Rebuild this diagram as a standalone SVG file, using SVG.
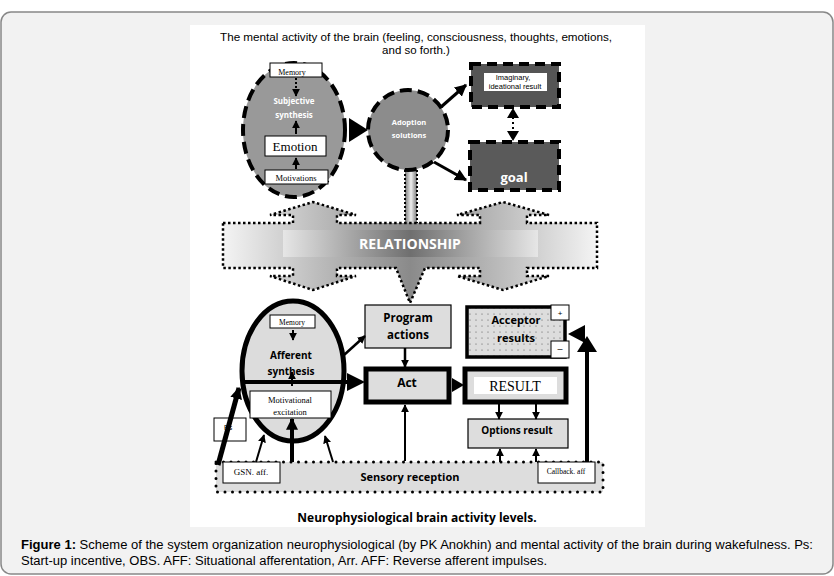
<svg xmlns="http://www.w3.org/2000/svg" width="834" height="576" viewBox="0 0 834 576">
<defs>
<style>
.t{font-family:"Liberation Sans",Arial,sans-serif;fill:#000}
.s{font-family:"Liberation Serif","Times New Roman",serif;fill:#000}
.b{font-family:"Open Sans","Liberation Sans",sans-serif;font-weight:bold}
.wb{fill:#fff;stroke:#000;stroke-width:1}
.ln{stroke:#000;fill:none}
</style>
<marker id="ah" viewBox="0 0 10 10" refX="9" refY="5" markerUnits="userSpaceOnUse" markerWidth="12" markerHeight="12" orient="auto"><path d="M0,0L10,5L0,10Z" fill="#000"/></marker>
<marker id="as" viewBox="0 0 10 10" refX="9" refY="5" markerUnits="userSpaceOnUse" markerWidth="8" markerHeight="8" orient="auto"><path d="M0,0L10,5L0,10Z" fill="#000"/></marker>
<linearGradient id="gh" x1="0" x2="1" y1="0" y2="0"><stop offset="0" stop-color="#f4f4f4"/><stop offset="0.25" stop-color="#bdbdbd"/><stop offset="0.5" stop-color="#8a8a8a"/><stop offset="0.75" stop-color="#bdbdbd"/><stop offset="1" stop-color="#f4f4f4"/></linearGradient>
<linearGradient id="gi" x1="0" x2="1"><stop offset="0" stop-color="#e6e6e6"/><stop offset="0.5" stop-color="#6f6f6f"/><stop offset="1" stop-color="#e6e6e6"/></linearGradient>
<linearGradient id="gv" x1="0" x2="1"><stop offset="0" stop-color="#777"/><stop offset="0.5" stop-color="#eee"/><stop offset="1" stop-color="#777"/></linearGradient>
<pattern id="dots" width="6" height="6" patternUnits="userSpaceOnUse"><rect width="6" height="6" fill="#ddd"/><circle cx="2" cy="2" r="0.6" fill="#555"/></pattern>
</defs>
<rect x="1" y="12" width="832" height="562" rx="10" fill="#f2f2f2" stroke="#888" stroke-width="1.5"/>
<rect x="190" y="25" width="455" height="502" fill="#fff"/>
<text class="t" font-size="11.5" text-anchor="middle"><tspan x="416" y="41" textLength="392" lengthAdjust="spacingAndGlyphs">The mental activity of the brain (feeling, consciousness, thoughts, emotions,</tspan><tspan x="416" y="54">and so forth.)</tspan></text>

<g id="relationship">
<rect x="405" y="170" width="12" height="55" fill="url(#gv)" stroke="#000" stroke-width="2" stroke-dasharray="2,2"/>
<path d="M223,223L293,223L293,215L270,215L313,202L356,215L337,215L337,223L480,223L480,215L457,215L503,202L549,215L527,215L527,223L597,223L597,268L527,268L527,276L549,276L503,290L457,276L480,276L480,268L425,268L410,303L396,268L337,268L337,276L356,276L313,290L270,276L293,276L293,268L223,268Z" fill="url(#gh)" stroke="#000" stroke-width="2.5" stroke-dasharray="2.5,2.5"/>
<rect x="283" y="230" width="255" height="27" fill="url(#gi)"/>
<text class="b" x="410" y="249" font-size="14" fill="#fff" text-anchor="middle">RELATIONSHIP</text>
</g>

<g id="subjective">
<ellipse cx="294" cy="130" rx="51" ry="67" fill="#999" stroke="#000" stroke-width="4" stroke-dasharray="12,6"/>
<rect class="wb" x="270" y="63" width="52" height="14"/>
<text class="s" x="292" y="75" font-size="8" text-anchor="middle">Memory</text>
<text class="b" font-size="8" fill="#fff" text-anchor="middle"><tspan x="294" y="104">Subjective</tspan><tspan x="294" y="118">synthesis</tspan></text>
<rect class="wb" x="265" y="136" width="61" height="20"/>
<text class="s" x="295" y="151" font-size="13" text-anchor="middle">Emotion</text>
<rect class="wb" x="265" y="170" width="63" height="14"/>
<text class="s" x="296" y="181" font-size="8.5" text-anchor="middle">Motivations</text>
</g>

<g id="adoption">
<circle cx="408" cy="130" r="40" fill="#8c8c8c" stroke="#000" stroke-width="4" stroke-dasharray="12,6"/>
<text class="b" font-size="7.5" fill="#fff" text-anchor="middle"><tspan x="409" y="125">Adoption</tspan><tspan x="409" y="138">solutions</tspan></text>
</g>

<g id="imaginary">
<rect x="471" y="64" width="88" height="43" fill="#555" stroke="#000" stroke-width="4" stroke-dasharray="10,6"/>
<rect x="484" y="73" width="63" height="18" fill="#fff"/>
<text class="t" font-size="7.5" text-anchor="middle"><tspan x="513" y="80">Imaginary,</tspan><tspan x="515" y="89">ideational result</tspan></text>
</g>
<g id="goal">
<rect x="470" y="142" width="89" height="48" fill="#5a5a5a" stroke="#000" stroke-width="4" stroke-dasharray="10,6"/>
<text class="b" x="514" y="182" font-size="13" fill="#fff" text-anchor="middle">goal</text>
</g>

<g id="afferent">
<ellipse cx="293" cy="371" rx="51" ry="70" fill="#dcdcdc" stroke="#000" stroke-width="5"/>
<rect class="wb" x="270" y="315" width="45" height="13"/>
<text class="s" x="292" y="325" font-size="7.5" text-anchor="middle">Memory</text>
<text class="b" font-size="10" text-anchor="middle"><tspan x="291" y="359">Afferent</tspan><tspan x="291" y="375">synthesis</tspan></text>
<rect class="wb" x="250" y="391" width="81" height="27"/>
<text class="s" font-size="8.5" text-anchor="middle"><tspan x="290" y="403">Motivational</tspan><tspan x="290" y="415">excitation</tspan></text>
</g>
<g id="ps"><rect class="wb" x="214" y="418" width="32" height="23"/><text class="t" x="224" y="430" font-size="7">Ps</text></g>
<g id="program"><rect x="365" y="305" width="86" height="43" fill="#ddd" stroke="#000" stroke-width="1.2"/>
<text class="b" font-size="11.5" text-anchor="middle"><tspan x="408" y="322">Program</tspan><tspan x="408" y="339">actions</tspan></text></g>
<g id="act"><rect x="366" y="369" width="83" height="33" fill="#ddd" stroke="#000" stroke-width="5"/>
<text class="b" x="407" y="387" font-size="12" text-anchor="middle">Act</text></g>
<g id="result"><rect x="465" y="369" width="101" height="33" fill="#ddd" stroke="#000" stroke-width="5"/>
<rect x="474" y="377" width="83" height="17" fill="#fff"/>
<text class="s" x="515" y="391" font-size="14" text-anchor="middle">RESULT</text></g>
<g id="options"><rect x="468" y="419" width="100" height="29" fill="#ddd" stroke="#000" stroke-width="1.2"/>
<text class="b" x="517" y="434" font-size="10" text-anchor="middle">Options result</text></g>
<g id="acceptor"><rect x="467" y="307" width="98" height="50" fill="url(#dots)" stroke="#000" stroke-width="3.5"/>
<text class="b" font-size="11" text-anchor="middle"><tspan x="516" y="324">Acceptor</tspan><tspan x="516" y="342">results</tspan></text>
<rect class="wb" x="551" y="305" width="18" height="15"/><text class="t" x="560" y="316" font-size="8" text-anchor="middle">+</text>
<rect class="wb" x="551" y="341" width="18" height="17"/><text class="t" x="560" y="352" font-size="9" text-anchor="middle">–</text></g>
<g id="sensory"><rect x="216" y="462" width="387" height="30" fill="#ddd" stroke="#000" stroke-width="3" stroke-dasharray="0,7.5" stroke-linecap="round"/>
<text class="b" x="410" y="481" font-size="11" font-weight="normal" text-anchor="middle">Sensory reception</text>
<rect class="wb" x="223" y="462" width="57" height="21"/><text class="s" x="251" y="475" font-size="9" text-anchor="middle">GSN. aff.</text>
<rect class="wb" x="538" y="462" width="57" height="21"/><text class="s" x="566" y="474" font-size="7.5" text-anchor="middle">Callback. aff</text></g>

<text class="b" x="417" y="522" font-size="12" text-anchor="middle">Neurophysiological brain activity levels.</text>
<text class="t" font-size="12" fill="#333"><tspan x="21" y="549" textLength="792" lengthAdjust="spacingAndGlyphs"><tspan font-weight="bold">Figure 1:</tspan> Scheme of the system organization neurophysiological (by PK Anokhin) and mental activity of the brain during wakefulness. Ps:</tspan><tspan x="21" y="565" textLength="526" lengthAdjust="spacingAndGlyphs">Start-up incentive, OBS. AFF: Situational afferentation, Arr. AFF: Reverse afferent impulses.</tspan></text>

<g id="connectors">
<line x1="296" y1="78" x2="296" y2="96" stroke="#000" stroke-width="2" stroke-dasharray="2,2" marker-end="url(#as)"/>
<line x1="296" y1="134" x2="296" y2="121" class="ln" stroke-width="2" marker-end="url(#as)"/>
<line x1="296" y1="169" x2="296" y2="158" class="ln" stroke-width="2" marker-end="url(#as)"/>
<path d="M349,118L368,130L349,142Z" fill="#000"/>
<line x1="441" y1="107" x2="466" y2="85" class="ln" stroke-width="3" marker-end="url(#ah)"/>
<line x1="434" y1="162" x2="466" y2="180" class="ln" stroke-width="3" marker-end="url(#ah)"/>
<line x1="513" y1="117" x2="513" y2="132" stroke="#000" stroke-width="2" stroke-dasharray="2,3"/>
<path d="M507,118L513,108L519,118Z M507,131L513,141L519,131Z" fill="#000"/>
<line x1="293" y1="330" x2="293" y2="340" class="ln" stroke-width="2" marker-end="url(#as)"/>
<line x1="292" y1="386" x2="292" y2="372" class="ln" stroke-width="2" marker-end="url(#as)"/>
<line x1="242" y1="382" x2="352" y2="382" stroke="#000" stroke-width="4"/>
<path d="M347,373L365,382L347,391Z" fill="#000"/>
<line x1="344" y1="355" x2="365" y2="336" class="ln" stroke-width="2.5" marker-end="url(#as)"/>
<line x1="405" y1="348" x2="405" y2="367" class="ln" stroke-width="2.5" marker-end="url(#as)"/>
<path d="M452,378L464,385L452,392Z" fill="#000"/>
<line x1="405" y1="461" x2="405" y2="405" class="ln" stroke-width="2" marker-end="url(#as)"/>
<line x1="499" y1="402" x2="499" y2="419" class="ln" stroke-width="2" marker-end="url(#as)"/>
<line x1="536" y1="402" x2="536" y2="419" class="ln" stroke-width="2" marker-end="url(#as)"/>
<line x1="500" y1="462" x2="500" y2="449" class="ln" stroke-width="2" marker-end="url(#as)"/>
<line x1="536" y1="462" x2="536" y2="449" class="ln" stroke-width="2" marker-end="url(#as)"/>
<line x1="292" y1="462" x2="292" y2="419" class="ln" stroke-width="4" marker-end="url(#ah)"/>
<line x1="256" y1="462" x2="264" y2="435" class="ln" stroke-width="2" marker-end="url(#as)"/>
<line x1="333" y1="462" x2="325" y2="436" class="ln" stroke-width="2" marker-end="url(#as)"/>
<line x1="218" y1="465" x2="239" y2="388" class="ln" stroke-width="5" marker-end="url(#ah)"/>
<line x1="587" y1="462" x2="587" y2="345" stroke="#000" stroke-width="4"/>
<path d="M577,352L587,336L597,352Z" fill="#000"/>
<path d="M568,334L585,325L585,343Z" fill="#000"/>
</g>
</svg>
